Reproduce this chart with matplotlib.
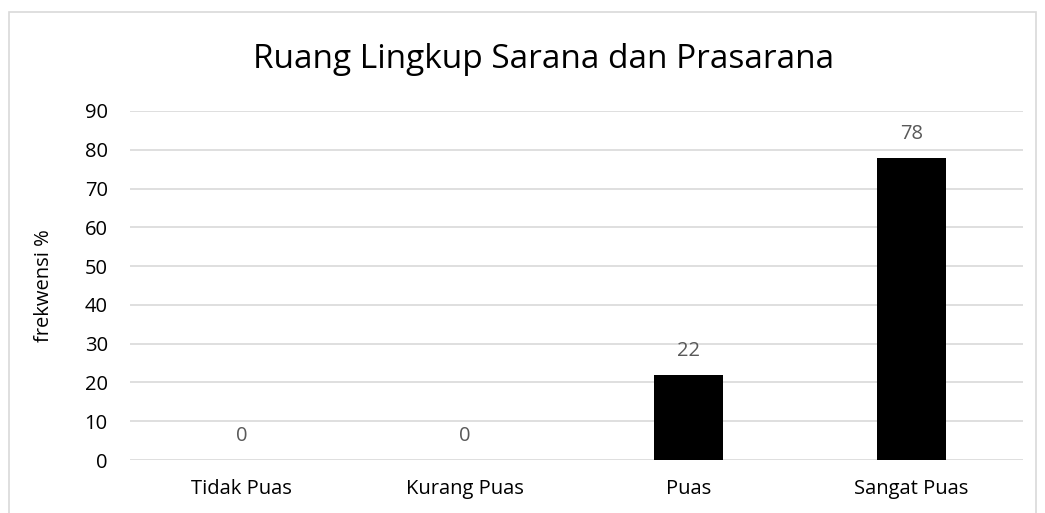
import matplotlib.pyplot as plt
from matplotlib.patches import Rectangle
import numpy as np

categories = ['Tidak Puas', 'Kurang Puas', 'Puas', 'Sangat Puas']
values = [0, 0, 22, 78]
yticks = [0, 10, 20, 30, 40, 50, 60, 70, 80, 90]

plt.rcParams['font.family'] = ['Open Sans', 'DejaVu Sans']

fig = plt.figure(figsize=(10.45, 5.13), dpi=100)
fig.patches.append(Rectangle((9 / 1045, -0.1), (1036 - 9) / 1045, 1.1 - 12 / 513,
                             transform=fig.transFigure, fill=False,
                             edgecolor='#d9d9d9', linewidth=1.2))

ax = fig.add_axes([130 / 1045, 1 - 460 / 513, (1023 - 130) / 1045, (460 - 111) / 513])
x = np.arange(len(categories))
bars = ax.bar(x, values, width=0.31, color='black', zorder=3)

for xi, v in zip(x, values):
    ax.text(xi, v + 3.5, str(v), ha='center', va='bottom', fontsize=14.5, color='#595959')

ax.set_xlim(-0.5, len(categories) - 0.5)
ax.set_ylim(0, 90)
ax.set_yticks(yticks)
ax.set_xticks(x)
ax.set_xticklabels(categories)
ax.tick_params(axis='both', length=0, labelsize=14.5, colors='black')
ax.tick_params(axis='y', pad=16)
ax.tick_params(axis='x', pad=14)
ax.grid(axis='y', color='#d9d9d9', linewidth=1.2, zorder=0)
for s in ax.spines.values():
    s.set_visible(False)

ax.set_ylabel('frekwensi %', fontsize=14.5, labelpad=22)
fig.text(0.5 + 21 / 1045, 1 - 60 / 513, 'Ruang Lingkup Sarana dan Prasarana',
         ha='center', va='center', fontsize=24)

fig.savefig('out.png', dpi=100)
